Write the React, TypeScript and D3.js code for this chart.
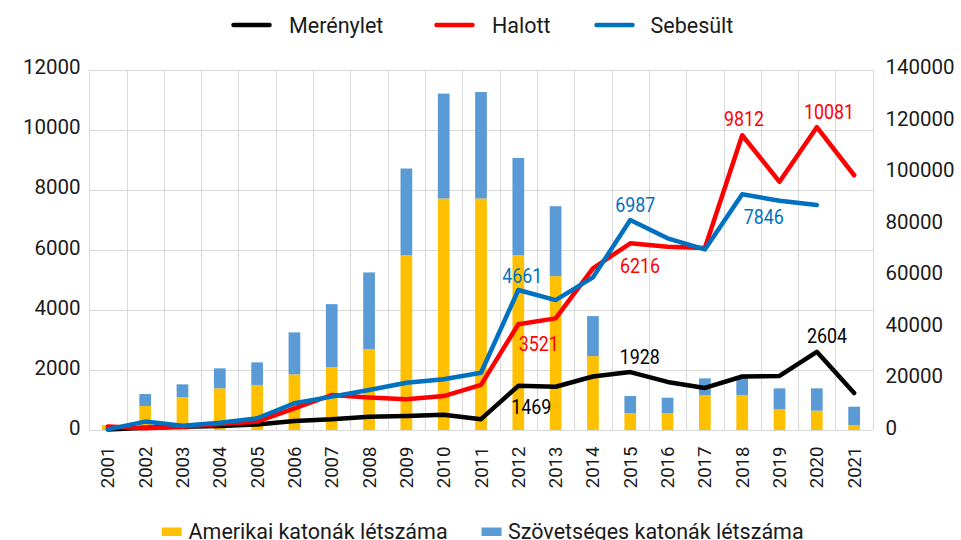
import React from 'react';
import * as d3 from 'd3';

const years = ['2001','2002','2003','2004','2005','2006','2007','2008','2009','2010','2011','2012','2013','2014','2015','2016','2017','2018','2019','2020','2021'];
const attacks = [20, 75, 110, 135, 185, 300, 355, 440, 470, 510, 360, 1469, 1440, 1780, 1928, 1600, 1400, 1780, 1800, 2604, 1230];
const killed = [120, 55, 110, 200, 280, 720, 1165, 1080, 1020, 1130, 1500, 3521, 3715, 5380, 6216, 6100, 6060, 9812, 8260, 10081, 8480];
const wounded: (number | null)[] = [20, 280, 140, 240, 390, 890, 1110, 1330, 1575, 1690, 1906, 4661, 4325, 5080, 6987, 6380, 6010, 7846, 7630, 7490, null];
const usTroops = [1900, 9300, 12700, 16200, 17500, 21600, 24400, 31400, 67900, 89900, 89900, 67900, 59750, 28700, 6500, 6500, 13600, 13600, 8150, 7500, 1950];
const alliedTroops = [0, 4670, 5030, 7730, 8760, 16300, 24490, 29790, 33640, 40740, 41360, 37750, 27160, 15530, 6690, 6040, 6450, 7350, 8020, 8670, 7100];

const leftTicks = [0, 2000, 4000, 6000, 8000, 10000, 12000];
const rightTicks = [0, 20000, 40000, 60000, 80000, 100000, 120000, 140000];

const lineLegend = ['Merénylet', 'Halott', 'Sebesült'];
const barLegend = ['Amerikai katonák létszáma', 'Szövetséges katonák létszáma'];

const C_BLACK = '#000000';
const C_RED = '#FF0000';
const C_BLUE = '#0070C0';
const C_US = '#FFC000';
const C_ALLIED = '#5B9BD5';
const GRID = '#D9D9D9';
const FONT = 'Roboto, "Noto Sans", sans-serif';

// label annotations: which series/index, offset from point to label's cap-centre
const annotations = [
  { s: 'wounded', i: 11, dx: 4, dy: -14.2 },
  { s: 'killed', i: 11, dx: 20.5, dy: 19.1 },
  { s: 'attacks', i: 11, dx: 13, dy: 21.1 },
  { s: 'wounded', i: 14, dx: 5, dy: -15.6 },
  { s: 'killed', i: 14, dx: 9.8, dy: 22.2 },
  { s: 'attacks', i: 14, dx: 9.5, dy: -15.4 },
  { s: 'killed', i: 17, dx: 1.9, dy: -16.4 },
  { s: 'wounded', i: 17, dx: 21.6, dy: 22.4 },
  { s: 'killed', i: 19, dx: 12.2, dy: -15.9 },
  { s: 'attacks', i: 19, dx: 10.2, dy: -16 },
];

export default function App() {
  const W = 961, H = 540;
  const left = 89.2, right = 872.8, top = 69.5, bottom = 430;
  const x = d3.scaleBand<string>().domain(years).range([left, right]).padding(0);
  const yL = d3.scaleLinear().domain([0, 12000]).range([bottom, top]);
  const yR = d3.scaleLinear().domain([0, 140000]).range([bottom, top]);
  const bw = x.bandwidth() * 0.314;
  const cx = (i: number) => (x(years[i]) as number) + x.bandwidth() / 2;

  const series: Record<string, { data: (number | null)[]; color: string }> = {
    attacks: { data: attacks, color: C_BLACK },
    killed: { data: killed, color: C_RED },
    wounded: { data: wounded, color: C_BLUE },
  };

  const lineGen = d3.line<number | null>()
    .defined(d => d != null)
    .x((_, i) => cx(i))
    .y(d => yL(d as number));

  const boundaries = years.map(y => x(y) as number).concat([right]);

  const labelFs = 20.5;
  const legendFs = 21.5;

  // top legend layout
  const topItems = [
    { label: lineLegend[0], color: C_BLACK, lx: 231.5, tx: 289 },
    { label: lineLegend[1], color: C_RED, lx: 434.5, tx: 492 },
    { label: lineLegend[2], color: C_BLUE, lx: 594.5, tx: 650.5 },
  ];
  const botItems = [
    { label: barLegend[0], color: C_US, rx: 161.7, tx: 188.5 },
    { label: barLegend[1], color: C_ALLIED, rx: 481.5, tx: 508 },
  ];

  return (
    <div style={{ position: 'absolute', left: 0, top: 0 }}>
      <svg width={W} height={H} viewBox={`0 0 ${W} ${H}`} style={{ display: 'block', background: '#fff' }}>
        <rect x={0} y={0} width={W} height={H} fill="#fff" />
        {/* horizontal grid */}
        {leftTicks.map(t => (
          <line key={'h' + t} x1={left} x2={right} y1={Math.round(yL(t)) + 0.5} y2={Math.round(yL(t)) + 0.5}
            stroke={GRID} strokeWidth={1} shapeRendering="crispEdges" />
        ))}
        {/* vertical grid */}
        {boundaries.map((bx, k) => (
          <line key={'v' + k} x1={Math.round(bx) + 0.5} x2={Math.round(bx) + 0.5} y1={top} y2={bottom}
            stroke={GRID} strokeWidth={1} shapeRendering="crispEdges" />
        ))}
        {/* bars */}
        {years.map((yr, i) => {
          const x0 = cx(i) - bw / 2;
          const usTop = yR(usTroops[i]);
          const allTop = yR(usTroops[i] + alliedTroops[i]);
          return (
            <g key={'b' + yr}>
              <rect x={x0} y={usTop} width={bw} height={bottom - usTop} fill={C_US} />
              {alliedTroops[i] > 0 && (
                <rect x={x0} y={allTop} width={bw} height={usTop - allTop} fill={C_ALLIED} />
              )}
            </g>
          );
        })}
        {/* lines */}
        {['attacks', 'killed', 'wounded'].map(k => (
          <path key={k} d={lineGen(series[k].data) || ''} fill="none" stroke={series[k].color}
            strokeWidth={4.5} strokeLinejoin="round" strokeLinecap="round" />
        ))}
        {/* data labels */}
        {annotations.map((a, n) => {
          const v = series[a.s].data[a.i] as number;
          const px = cx(a.i) + a.dx;
          const py = yL(v) + a.dy + 0.3555 * labelFs;
          return (
            <g key={'a' + n} transform={`translate(${px},${py}) scale(0.87,1)`}>
              <text x={0} y={0} textAnchor="middle" fontFamily={FONT} fontSize={labelFs} fill={series[a.s].color}>{String(v)}</text>
            </g>
          );
        })}
        {/* left axis labels */}
        {leftTicks.map(t => (
          <text key={'l' + t} x={80.5} y={yL(t) + 4.8} textAnchor="end" fontFamily={FONT} fontSize={20.5} fill="#1a1a1a">{t}</text>
        ))}
        {/* right axis labels */}
        {rightTicks.map(t => (
          <text key={'r' + t} x={885.5} y={yR(t) + 4.8} textAnchor="start" fontFamily={FONT} fontSize={20.5} fill="#1a1a1a">{t}</text>
        ))}
        {/* year labels */}
        {years.map((yr, i) => (
          <g key={'y' + yr} transform={`translate(${cx(i)},446.5) rotate(-90)`}>
            <text x={0} y={0} dy="0.35em" textAnchor="end" fontFamily={FONT} fontSize={18.6} fill="#1a1a1a">{yr}</text>
          </g>
        ))}
        {/* top legend */}
        {topItems.map(it => (
          <g key={it.label}>
            <line x1={it.lx + 2} x2={it.lx + 38} y1={25} y2={25} stroke={it.color} strokeWidth={4.5} strokeLinecap="round" />
            <text x={it.tx} y={25 + 0.3555 * legendFs} fontFamily={FONT} fontSize={legendFs} fill="#1a1a1a">{it.label}</text>
          </g>
        ))}
        {/* bottom legend */}
        {botItems.map(it => (
          <g key={it.label}>
            <rect x={it.rx} y={527.5} width={20} height={8.5} fill={it.color} />
            <text x={it.tx} y={538.6} fontFamily={FONT} fontSize={legendFs} fill="#1a1a1a">{it.label}</text>
          </g>
        ))}
      </svg>
    </div>
  );
}
